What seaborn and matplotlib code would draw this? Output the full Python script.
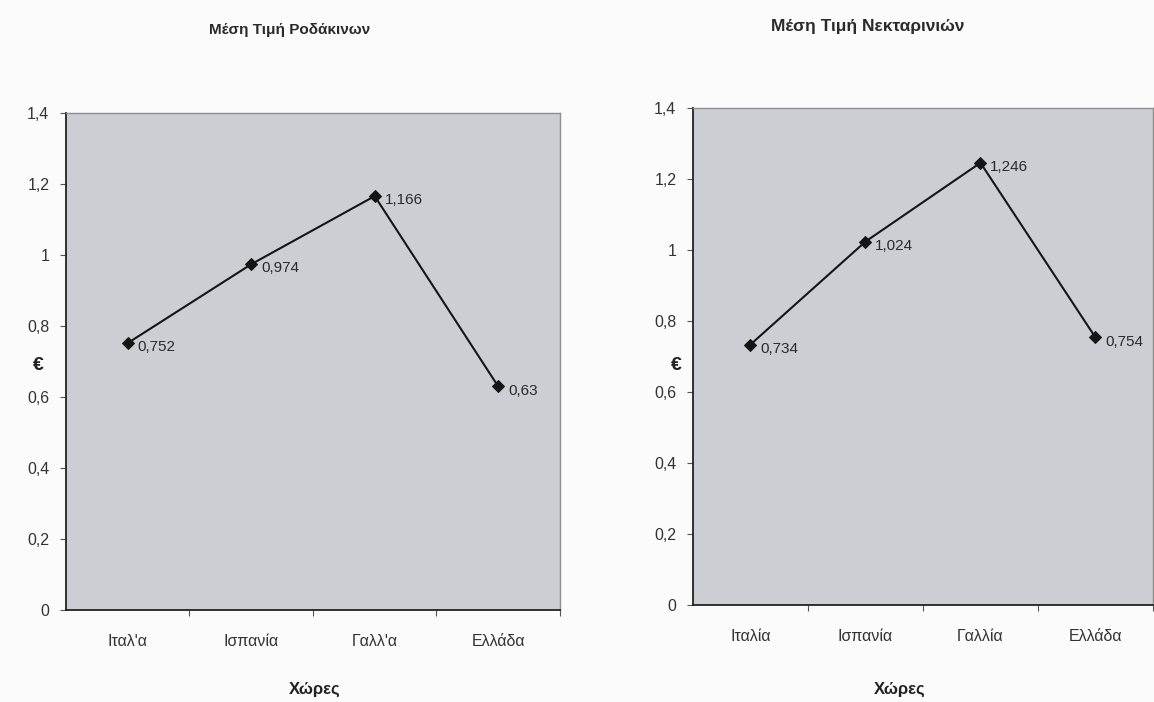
import matplotlib
matplotlib.use("Agg")
import matplotlib.pyplot as plt
from matplotlib.ticker import FixedLocator, FuncFormatter
import seaborn as sns
import pandas as pd

# Average prices per country (€)
countries_peach = ["Ιταλ'α", "Ισπανία", "Γαλλ'α", "Ελλάδα"]
countries_nectarine = ["Ιταλία", "Ισπανία", "Γαλλία", "Ελλάδα"]
peach_prices = [0.752, 0.974, 1.166, 0.63]
nectarine_prices = [0.734, 1.024, 1.246, 0.754]
y_ticks = [0, 0.2, 0.4, 0.6, 0.8, 1.0, 1.2, 1.4]

sns.set_style("white")
plt.rcParams["font.family"] = ["Liberation Sans Narrow", "Liberation Sans", "DejaVu Sans"]

fig = plt.figure(figsize=(11.54, 7.02), dpi=100)
fig.patch.set_facecolor("#fbfbfb")

ax_l = fig.add_axes([0.0572, 0.131, 0.428, 0.708])
ax_r = fig.add_axes([0.6005, 0.138, 0.3986, 0.708])

panel_bg = "#ccced3"


def fmt_comma(v, _pos):
    s = f"{v:.1f}".replace(".", ",")
    if s.endswith(",0"):
        s = s[:-2]
    return s


def fmt_val(v):
    return f"{v:g}".replace(".", ",")


def draw_panel(ax, cats, vals, title, title_x, title_y, title_size, xlabel_x):
    df = pd.DataFrame({"country": cats, "price": vals})
    sns.lineplot(data=df, x="country", y="price", ax=ax, sort=False,
                 color="#151515", linewidth=1.5, marker="D", markersize=6,
                 markeredgecolor="#151515", markerfacecolor="#151515")
    ax.set_facecolor(panel_bg)
    ax.set_xlim(-0.5, len(cats) - 0.5)
    ax.set_ylim(0, 1.4)
    ax.yaxis.set_major_locator(FixedLocator(y_ticks))
    ax.yaxis.set_major_formatter(FuncFormatter(fmt_comma))
    ax.set_xticks(range(len(cats)))
    ax.set_xticklabels(cats)
    ax.xaxis.set_minor_locator(FixedLocator([i + 0.5 for i in range(len(cats))]))
    ax.tick_params(axis="x", which="major", length=0, pad=17, labelsize=11.5,
                   colors="#333333")
    ax.tick_params(axis="x", which="minor", length=4, width=0.8, color="#555555",
                   direction="out", bottom=True)
    ax.tick_params(axis="y", length=4, width=0.8, color="#555555", direction="out",
                   left=True, pad=8, labelsize=11.5, labelcolor="#333333")
    for side in ["left", "bottom"]:
        ax.spines[side].set_color("#222222")
        ax.spines[side].set_linewidth(1.3)
    for side in ["top", "right"]:
        ax.spines[side].set_color("#8f8f8f")
        ax.spines[side].set_linewidth(1.0)
        ax.spines[side].set_linestyle((0, (2, 1)))
    ax.set_xlabel("")
    ax.set_ylabel("")
    for i, v in enumerate(vals):
        ax.annotate(fmt_val(v), (i, v), xytext=(7, -3), textcoords="offset points",
                    ha="left", va="center", fontsize=11, color="#2a2a2a")
    fig.text(title_x, title_y, title, ha="center", va="center",
             fontsize=title_size, fontweight="bold", color="#2a2a2a")
    fig.text(xlabel_x, 0.018, "Χώρες", ha="center", va="center",
             fontsize=12, fontweight="bold", color="#222222")


draw_panel(ax_l, countries_peach, peach_prices, "Μέση Τιμή Ροδάκινων",
           290 / 1154, 1 - 30 / 702, 11, 315 / 1154)
draw_panel(ax_r, countries_nectarine, nectarine_prices, "Μέση Τιμή Νεκταρινιών",
           868 / 1154, 1 - 27 / 702, 12.5, 900 / 1154)

fig.text(38 / 1154, 1 - 365 / 702, "€", ha="center", va="center",
         fontsize=14, fontweight="bold", color="#222222")
fig.text(676 / 1154, 1 - 365 / 702, "€", ha="center", va="center",
         fontsize=14, fontweight="bold", color="#222222")

fig.savefig("out.png", dpi=100, facecolor=fig.get_facecolor())
